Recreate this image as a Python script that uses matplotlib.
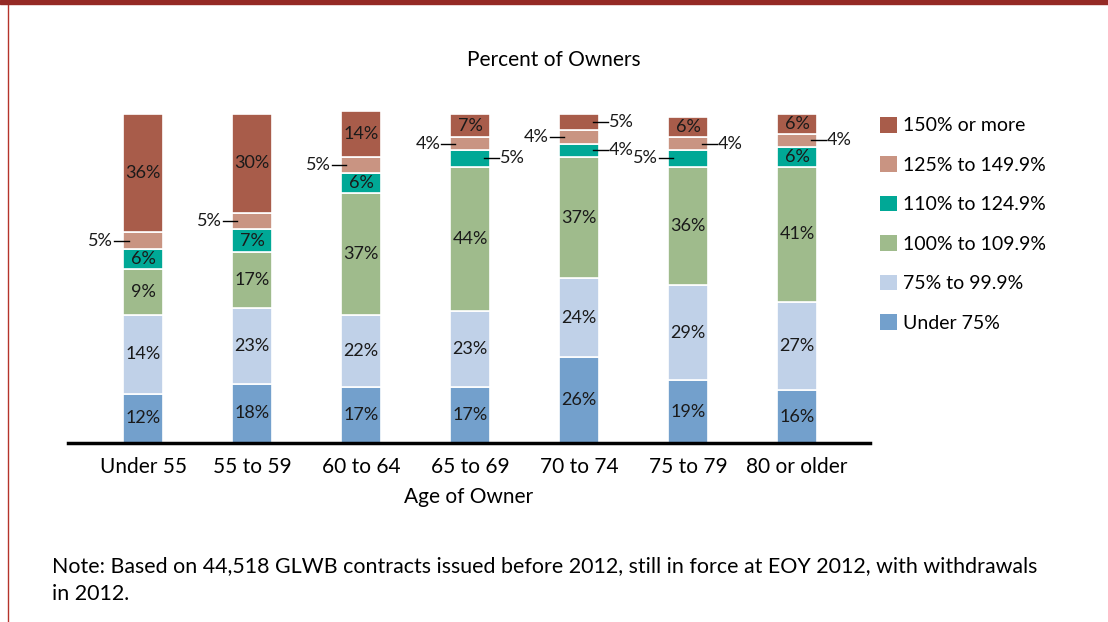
import matplotlib.pyplot as plt
from matplotlib.patches import Patch, Rectangle
from matplotlib.lines import Line2D
import numpy as np

plt.rcParams['font.family'] = ['Lato', 'DejaVu Sans']

# Data: percent of owners by age group, stacked from bottom up
ages = ['Under 55', '55 to 59', '60 to 64', '65 to 69', '70 to 74', '75 to 79', '80 or older']
under_75 = [15, 18, 17, 17, 26, 19, 16]
pct_75_99 = [24, 23, 22, 23, 24, 29, 27]
pct_100_109 = [14, 17, 37, 44, 37, 36, 41]
pct_110_124 = [6, 7, 6, 5, 4, 5, 6]
pct_125_149 = [5, 5, 5, 4, 4, 4, 4]
pct_150_up = [36, 30, 14, 7, 5, 6, 6]

# printed labels (as shown on the original chart)
labels_under_75 = ['12%', '18%', '17%', '17%', '26%', '19%', '16%']
labels_75_99 = ['14%', '23%', '22%', '23%', '24%', '29%', '27%']
labels_100_109 = ['9%', '17%', '37%', '44%', '37%', '36%', '41%']
labels_110_124 = ['6%', '7%', '6%', '5%', '4%', '5%', '6%']
labels_125_149 = ['5%', '5%', '5%', '4%', '4%', '4%', '4%']
labels_150_up = ['36%', '30%', '14%', '7%', '5%', '6%', '6%']

series_names = ['Under 75%', '75% to 99.9%', '100% to 109.9%', '110% to 124.9%',
                '125% to 149.9%', '150% or more']
colors = ['#73a0cc', '#c0d1e8', '#9fbb8c', '#00a896', '#c99482', '#a85c4a']
series = [under_75, pct_75_99, pct_100_109, pct_110_124, pct_125_149, pct_150_up]
labels = [labels_under_75, labels_75_99, labels_100_109, labels_110_124,
          labels_125_149, labels_150_up]

# label placement: 'in', 'left' or 'right' (outside with a leader line)
placement = [
    ['in'] * 7,
    ['in'] * 7,
    ['in'] * 7,
    ['in', 'in', 'in', 'right', 'right', 'left', 'in'],
    ['left', 'left', 'left', 'left', 'left', 'right', 'right'],
    ['in', 'in', 'in', 'in', 'right', 'in', 'in'],
]

fig = plt.figure(figsize=(11.08, 6.22), dpi=100)
ax = fig.add_axes([0.0614, 0.2878, 0.7238, 0.5395])

x = np.arange(len(ages))
width = 0.37
bottom = np.zeros(len(ages))
for vals, col, labs, place in zip(series, colors, labels, placement):
    vals = np.array(vals, dtype=float)
    ax.bar(x, vals, width, bottom=bottom, color=col, edgecolor='white', linewidth=1.2)
    for i in range(len(ages)):
        yc = bottom[i] + vals[i] / 2
        if place[i] == 'in':
            ax.text(x[i], yc, labs[i], ha='center', va='center', fontsize=13, color='#1a1a1a')
        elif place[i] == 'left':
            x0 = x[i] - width / 2
            ax.plot([x0 - 0.085, x0 + 0.05], [yc, yc], color='black', lw=1)
            ax.text(x0 - 0.09, yc, labs[i], ha='right', va='center', fontsize=13,
                    color='#1a1a1a')
        else:
            x0 = x[i] + width / 2
            ax.plot([x0 - 0.06, x0 + 0.08], [yc, yc], color='black', lw=1)
            ax.text(x0 + 0.085, yc, labs[i], ha='left', va='center', fontsize=13,
                    color='#1a1a1a')
    bottom += vals

ax.set_xlim(-0.69, 6.67)
ax.set_ylim(0, 102)
ax.axhline(0, color='black', lw=2.5, clip_on=False)
for s in ax.spines.values():
    s.set_visible(False)
ax.set_yticks([])
ax.set_xticks(x)
ax.set_xticklabels(ages, fontsize=15)
ax.tick_params(axis='x', length=0, pad=10)
ax.set_xlabel('Age of Owner', fontsize=15, labelpad=7)

fig.text(0.5, 1 - 60 / 622, 'Percent of Owners', ha='center', va='center', fontsize=15)

handles = [Patch(facecolor=c, edgecolor='none') for c in colors[::-1]]
fig.legend(handles, series_names[::-1], loc='upper left', bbox_to_anchor=(880 / 1108, 1 - 117 / 622),
           frameon=False, fontsize=14, handlelength=0.85, handleheight=0.85,
           handletextpad=0.35, labelspacing=1.13, borderpad=0, borderaxespad=0)

fig.text(52 / 1108, 1 - 580 / 622,
         'Note: Based on 44,518 GLWB contracts issued before 2012, still in force at EOY 2012, '
         'with withdrawals\nin 2012.', ha='left', va='center', fontsize=15.4, linespacing=1.45)

# page frame: dark red band on top and thin line on the left
fig.patches.append(Rectangle((0, 1 - 4 / 622), 1, 4 / 622, transform=fig.transFigure,
                             color='#952a25', zorder=5))
fig.lines.append(Line2D([8 / 1108, 8 / 1108], [0, 1], transform=fig.transFigure,
                        color='#b5332b', lw=1))

fig.savefig('out.png', dpi=100)
